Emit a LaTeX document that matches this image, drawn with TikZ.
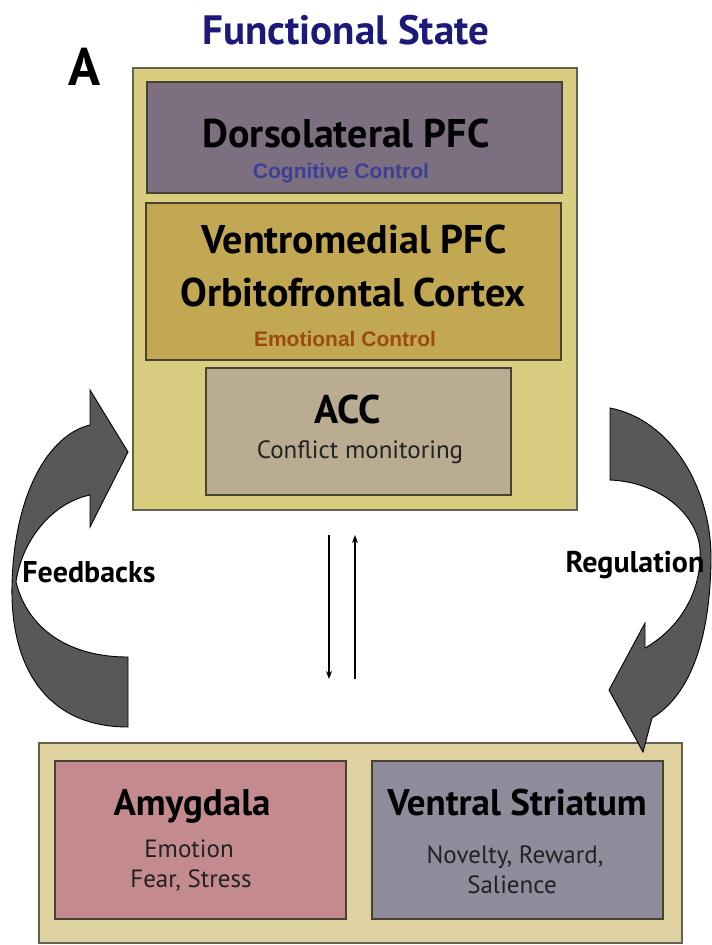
\documentclass[tikz,border=0pt]{standalone}
\usepackage{fontspec}
\newfontfamily\pts{PT Sans}
\newfontfamily\lib{Liberation Sans}
\usetikzlibrary{arrows.meta}
\definecolor{outerfill}{RGB}{217,205,128}
\definecolor{outerfillb}{RGB}{222,211,160}
\definecolor{outerline}{RGB}{100,96,82}
\definecolor{innerline}{RGB}{72,66,52}
\definecolor{dlfill}{RGB}{124,111,127}
\definecolor{vmfill}{RGB}{194,168,82}
\definecolor{accfill}{RGB}{185,172,144}
\definecolor{amyfill}{RGB}{196,139,143}
\definecolor{vsfill}{RGB}{143,140,156}
\definecolor{arrowfill}{RGB}{88,88,90}
\definecolor{titleblue}{RGB}{28,26,120}
\definecolor{cogblue}{RGB}{61,63,149}
\definecolor{emobrown}{RGB}{155,74,18}
\definecolor{subtext}{RGB}{34,34,34}
\tikzset{
  outerbox/.style={draw=outerline, line width=1.6pt},
  innerbox/.style={draw=innerline, line width=2pt},
  hd/.style={anchor=base, inner sep=0pt, font=\pts\bfseries\fontsize{40}{44}\selectfont},
  hdb/.style={anchor=base, inner sep=0pt, font=\pts\bfseries\fontsize{37}{40}\selectfont},
  sublabel/.style={anchor=base, inner sep=0pt, text=subtext, font=\pts\fontsize{25}{28}\selectfont},
  ctl/.style={anchor=base, inner sep=0pt, font=\lib\bfseries\fontsize{21}{24}\selectfont},
  side/.style={anchor=base, inner sep=0pt, font=\pts\bfseries\fontsize{30}{32}\selectfont},
  bigarrow/.style={fill=arrowfill, draw=black, line width=0.9pt, line join=miter},
  thin/.style={line width=1.5pt, -{Stealth[length=8pt,width=6pt]}}
}
\begin{document}
\begin{tikzpicture}[x=1pt,y=-1pt]
\useasboundingbox (0,0) rectangle (712,945);
\fill[white] (0,0) rectangle (712,945);
% title and panel letter
\node[anchor=base, inner sep=0pt, text=titleblue, font=\pts\bfseries\fontsize{41}{44}\selectfont] (title) at (346,44) {Functional State};
\node[anchor=base, inner sep=0pt, font=\pts\bfseries\fontsize{53}{56}\selectfont] (panel) at (85,85) {A};
% top group
\path[outerbox, fill=outerfill] (133,68) rectangle (577,510) node[pos=0.5] (top) {};
\path[innerbox, fill=dlfill] (147,82) rectangle (562,193) node[pos=0.5] (dl) {};
\path[innerbox, fill=vmfill] (146,203) rectangle (561,360) node[pos=0.5] (vm) {};
\path[innerbox, fill=accfill] (206,368) rectangle (511,495) node[pos=0.5] (acc) {};
\node[hd] (tdl) at (346,147) {Dorsolateral PFC};
\node[ctl, text=cogblue] (tcog) at (341,178) {Cognitive Control};
\node[hd] (tvm) at (354,253) {Ventromedial PFC};
\node[hd] (tof) at (353,306) {Orbitofrontal Cortex};
\node[ctl, text=emobrown] (temo) at (345,346) {Emotional Control};
\node[hd] (tacc) at (348,423) {ACC};
\node[sublabel] (tcm) at (360,458) {Conflict monitoring};
% bottom group
\path[outerbox, fill=outerfillb] (39,743) rectangle (682,943) node[pos=0.5] (bot) {};
\path[innerbox, fill=amyfill] (55,761) rectangle (346,919) node[pos=0.5] (amy) {};
\path[innerbox, fill=vsfill] (372,761) rectangle (663,919) node[pos=0.5] (vs) {};
\node[hdb] (tamy) at (192,815) {Amygdala};
\node[sublabel] (temt) at (189,857) {Emotion};
\node[sublabel] (tfear) at (191,887) {Fear, Stress};
\node[hdb] (tvs) at (517,815) {Ventral Striatum};
\node[sublabel] (tnov) at (515,863) {Novelty, Reward,};
\node[sublabel] (tsal) at (512,893) {Salience};
% vertical arrows
\coordinate (d1) at (329,535);
\coordinate (d2) at (329,679);
\coordinate (u1) at (355,679);
\coordinate (u2) at (355,535);
\draw[thin] (d1) -- (d2);
\draw[thin] (u1) -- (u2);
% feedback arrow (left)
\path[bigarrow] (128,727) .. controls (45,727) and (10,665) .. (12,585)
  .. controls (14,495) and (48,435) .. (90,425) -- (90,390) -- (128,452) -- (90,527) -- (90,495)
  .. controls (52,503) and (22,540) .. (16,582)
  .. controls (28,630) and (70,657) .. (128,657) -- cycle;
% regulation arrow (right)
\path[bigarrow] (610,480) -- (610,408) .. controls (672,420) and (712,490) .. (711,560)
  .. controls (710,640) and (690,695) .. (652,718) -- (643,752) -- (609,690) -- (645,623) -- (645,648)
  .. controls (685,625) and (702,585) .. (700,550)
  .. controls (698,515) and (660,482) .. (610,480) -- cycle;
\node[side] (tfb) at (89,582) {Feedbacks};
\node[side] (treg) at (635,572) {Regulation};
\end{tikzpicture}
\end{document}
